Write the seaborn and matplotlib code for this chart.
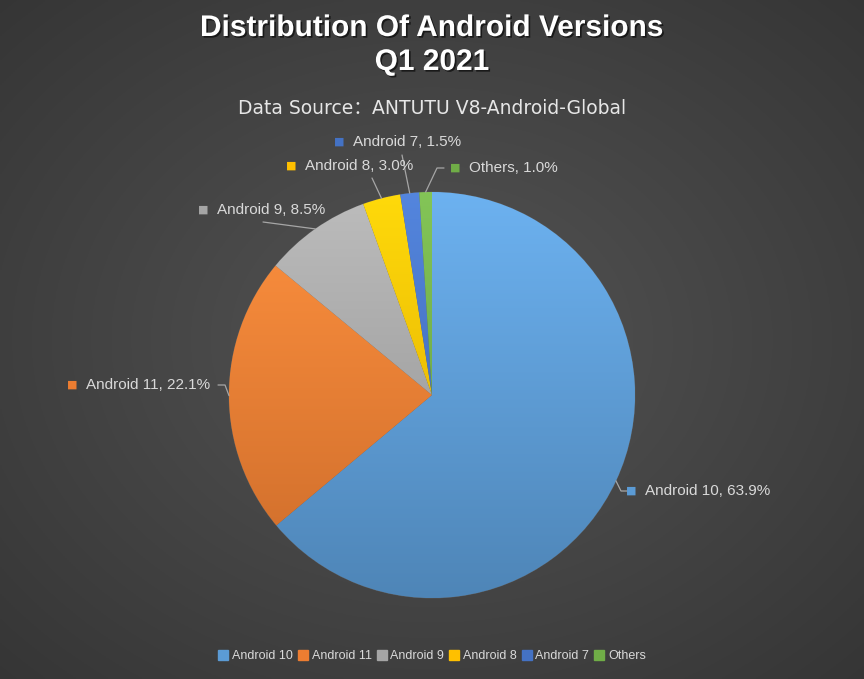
import numpy as np
import matplotlib
matplotlib.use("Agg")
import matplotlib.pyplot as plt
import matplotlib.patheffects as pe
from matplotlib.colors import to_rgb
import seaborn as sns

sns.set_theme(style="dark")
plt.rcParams['font.family'] = ['Liberation Sans', 'DejaVu Sans']

versions = ['Android 10', 'Android 11', 'Android 9', 'Android 8', 'Android 7', 'Others']
shares = [63.9, 22.1, 8.5, 3.0, 1.5, 1.0]
colors = ['#5B9BD5', '#ED7D31', '#A5A5A5', '#FFC000', '#4472C4', '#70AD47']

# label marker positions (pixels) and where leader lines end
label_px = [(631, 491), (72, 385), (203, 210), (291, 166), (339, 142), (455, 168)]
line_end_px = [[(621, 491), (627, 491)], [(225, 385), (218, 385)], [(263, 222)],
               [(372, 178)], [(402, 155)], [(437, 168), (444, 168)]]

W, H = 864, 679
CX, CY, R = 432, 395, 203


def px(x, y):
    return (x - CX) / R, (CY - y) / R


fig = plt.figure(figsize=(W / 100, H / 100), dpi=100)
ax = fig.add_axes([0, 0, 1, 1])
x0, y1 = px(0, 0)
x1, y0 = px(W, H)

# radial background
gx, gy = np.meshgrid(np.linspace(-1, 1, 400), np.linspace(-1, 1, 320))
rr = np.clip(np.sqrt(gx ** 2 + gy ** 2) / 1.41, 0, 1)
bg = 0.33 - 0.12 * rr
ax.imshow(np.dstack([bg, bg, bg]), extent=(x0, x1, y0, y1), zorder=0, aspect='auto')

wedges, _ = ax.pie(shares, colors=colors, startangle=90, counterclock=False,
                   radius=1, center=(0, 0), frame=True,
                   wedgeprops=dict(linewidth=0.6, edgecolor='#5a5a5a'))
ax.set_xlim(x0, x1)
ax.set_ylim(y0, y1)
ax.set_aspect('equal')
ax.axis('off')

# vertical shading inside each slice
gv = np.linspace(0, 1, 256)[:, None]
for w, c in zip(wedges, colors):
    r, g, b = to_rgb(c)
    top = np.array([min(1, r * 1.08 + 0.04), min(1, g * 1.08 + 0.04), min(1, b * 1.08 + 0.04)])
    bot = np.array([r * 0.86, g * 0.86, b * 0.86])
    img = top[None, None, :] * (1 - gv[..., None]) + bot[None, None, :] * gv[..., None]
    img = np.repeat(img, 4, axis=1)
    im = ax.imshow(img, extent=(-1, 1, -1, 1), zorder=2, aspect='auto')
    im.set_clip_path(w)
    w.set_zorder(1)

for w, name, val, c, lp, le in zip(wedges, versions, shares, colors, label_px, line_end_px):
    mid = np.deg2rad((w.theta1 + w.theta2) / 2)
    ex, ey = np.cos(mid), np.sin(mid)
    pts = [(ex, ey)] + [px(*p) for p in le]
    ax.plot([p[0] for p in pts], [p[1] for p in pts], color='#a6a6a6', lw=0.9, zorder=3)
    mx, my = px(*lp)
    ax.text(mx, my, '■', color=c, fontsize=8, ha='center', va='center', zorder=4,
            family=['DejaVu Sans'])
    ax.text(mx + 14 / R, my, f'{name}, {val:.1f}%', color='#d9d9d9', fontsize=11,
            ha='left', va='center', zorder=4)

title_fx = [pe.withSimplePatchShadow(offset=(1.2, -1.2), shadow_rgbFace='black', alpha=0.6)]
fig.text(0.5, 1 - 28 / H, 'Distribution Of Android Versions', ha='center', va='center',
         color='white', fontsize=21.5, fontweight='bold', path_effects=title_fx)
fig.text(0.5, 1 - 62 / H, 'Q1 2021', ha='center', va='center',
         color='white', fontsize=21.5, fontweight='bold', path_effects=title_fx)
fig.text(0.5, 1 - 108 / H, 'Data Source：ANTUTU V8-Android-Global', ha='center', va='center',
         color='#e6e6e6', fontsize=13.5, family=['DejaVu Sans', 'Noto Sans CJK SC'])

# legend
handles = [plt.Rectangle((0, 0), 1, 1, color=c) for c in colors]
leg = fig.legend(handles, versions, loc='center', bbox_to_anchor=(0.5, 1 - 656 / H),
                 ncol=6, frameon=False, fontsize=9, handlelength=0.8, handleheight=0.8,
                 handletextpad=0.3, columnspacing=0.4)
for t in leg.get_texts():
    t.set_color('#d9d9d9')

fig.savefig('out.png', dpi=100)
